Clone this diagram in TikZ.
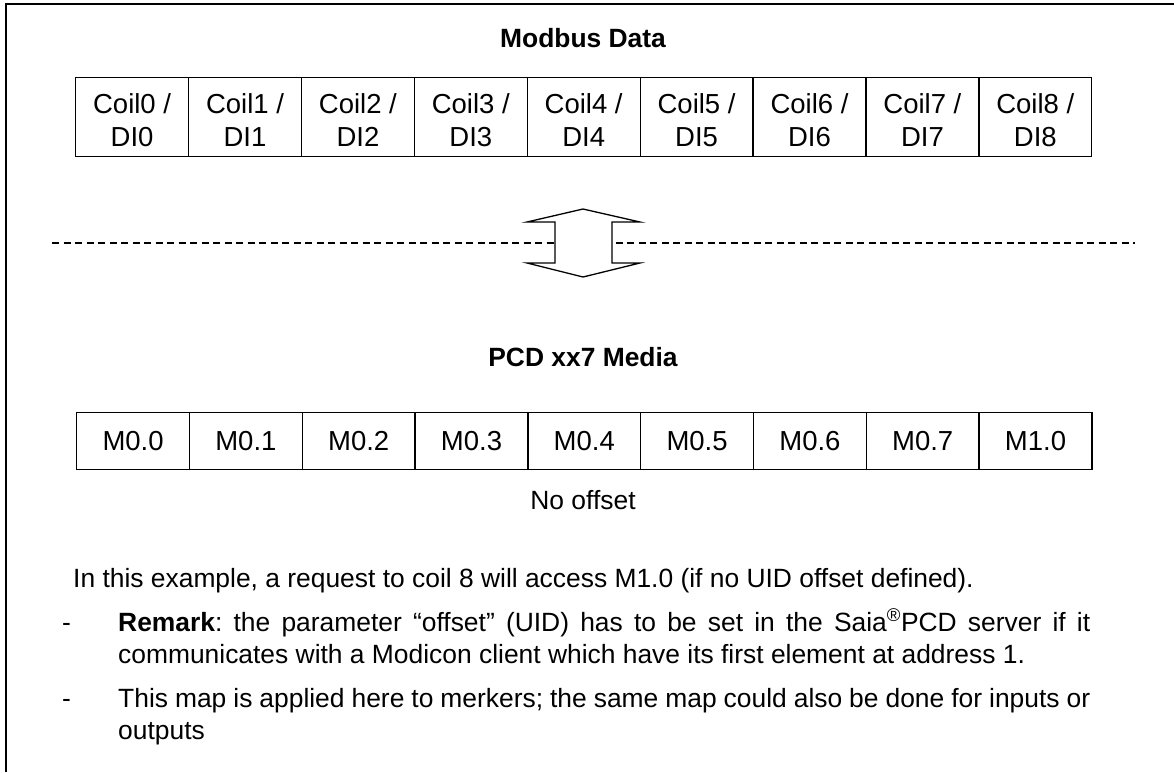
\documentclass[tikz,border=0pt]{standalone}
\usepackage{fontspec}
\setmainfont{Liberation Sans}
\frenchspacing
\begin{document}
\begin{tikzpicture}[x=1pt,y=-1pt,
  cell/.style={draw,line width=1.3pt,minimum width=112.9pt,minimum height=79pt,inner sep=0pt,anchor=north west,align=center,font=\fontsize{27.5}{33}\selectfont},
  mcell/.style={draw,line width=1.3pt,minimum width=112.9pt,minimum height=57pt,inner sep=0pt,anchor=north west,font=\fontsize{27.5}{32}\selectfont},
  title/.style={font=\fontsize{26.4}{32}\selectfont\bfseries,inner sep=0pt},
  body/.style={font=\fontsize{26.4}{32}\selectfont,inner sep=0pt,anchor=base west},
  frame/.style={line width=1.5pt},
  sep/.style={line width=1.3pt,dash pattern=on 7pt off 4.5pt},
  dblarrow/.style={draw,fill=white,line width=1.3pt,line join=miter}]
\useasboundingbox (0,0) rectangle (1174,772);
\draw[frame] (6,772) -- (6,4) -- (1174,4);
\node[title] (t1) at (583,38) {Modbus Data};
\foreach \i in {0,...,8} {
  \node[cell] (c\i) at ({75+112.9*\i},77) {\rule{0pt}{36pt}Coil\i\ /\\\strut DI\i};
}
\coordinate (dl) at (52,243);
\coordinate (dr) at (1135,243);
\draw[sep] (dl) -- (dr);
\draw[dblarrow] (583,209) -- (640,222) -- (612,222) -- (612,263) -- (640,263) -- (583,277)
  -- (527,263) -- (555,263) -- (555,222) -- (527,222) -- cycle;
\node[title] (t2) at (583,357) {PCD xx7 Media};
\foreach \l [count=\i from 0] in {M0.0,M0.1,M0.2,M0.3,M0.4,M0.5,M0.6,M0.7,M1.0} {
  \node[mcell] (m\i) at ({76+112.8*\i},412) {\l};
}
\node[font=\fontsize{26.4}{32}\selectfont,inner sep=0pt] (nooff) at (583,500) {No offset};
\node[body] (p1) at (73,587) {In this example, a request to coil 8 will access M1.0 (if no UID offset defined).};
\node[body] (b1) at (62,631) {-};
\node[body] (p2) at (118,631) {\parbox[t]{972pt}{\textbf{Remark}: the parameter “offset” (UID) has to be set in the Saia\textsuperscript{®}PCD server if it\linebreak communicates with a Modicon client which have its first element at address 1.}};
\node[body] (b2) at (62,707) {-};
\node[body] (p3) at (118,707) {\parbox[t]{972pt}{This map is applied here to merkers; the same map could also be done for inputs or\linebreak outputs}};
\end{tikzpicture}
\end{document}
